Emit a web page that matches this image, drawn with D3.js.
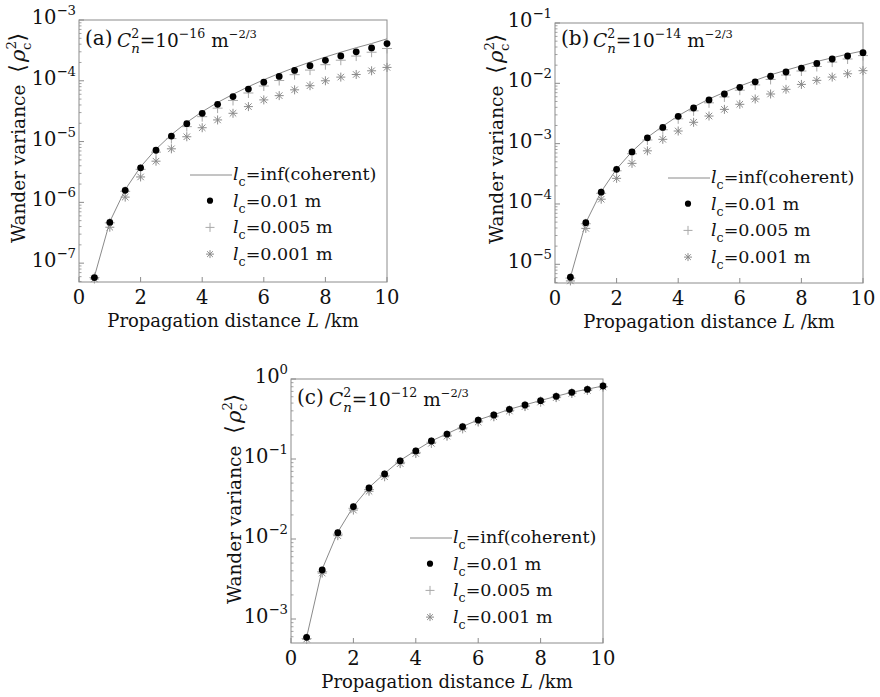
<!DOCTYPE html>
<html lang="en">
<head>
<meta charset="UTF-8">
<title>Wander variance</title>
<script src="https://d3js.org/d3.v7.min.js"></script>
<style>
  body { margin: 0; background: #fff; }
  text { font-family: "DejaVu Serif", serif; fill: #111; }
</style>
</head>
<body>
<svg id="chart" width="880" height="697"></svg>
<script>
// propagation distance L (km)
const L = [0.5, 1, 1.5, 2, 2.5, 3, 3.5, 4, 4.5, 5, 5.5, 6, 6.5, 7, 7.5, 8, 8.5, 9, 9.5, 10];
const xTicks = [0, 2, 4, 6, 8, 10];

// (a) Cn2 = 1e-16
const coherentA = [6.0e-8, 4.8e-7, 1.62e-6, 3.85e-6, 7.5e-6, 1.3e-5, 2.07e-5, 3.1e-5, 4.4e-5, 6.0e-5,
                   8.0e-5, 1.04e-4, 1.32e-4, 1.65e-4, 2.03e-4, 2.46e-4, 2.95e-4, 3.5e-4, 4.1e-4, 4.9e-4];
const dotsA = [5.8e-8, 4.7e-7, 1.58e-6, 3.7e-6, 7.2e-6, 1.23e-5, 1.97e-5, 2.92e-5, 4.1e-5, 5.5e-5,
               7.3e-5, 9.5e-5, 1.18e-4, 1.48e-4, 1.77e-4, 2.17e-4, 2.56e-4, 3.0e-4, 3.47e-4, 4.09e-4];
const plusA = [5.8e-8, 4.6e-7, 1.52e-6, 3.5e-6, 6.7e-6, 1.12e-5, 1.76e-5, 2.57e-5, 3.55e-5, 4.75e-5,
               6.3e-5, 8.2e-5, 1.01e-4, 1.26e-4, 1.5e-4, 1.84e-4, 2.18e-4, 2.55e-4, 2.95e-4, 3.4e-4];
const starA = [5.5e-8, 3.9e-7, 1.22e-6, 2.62e-6, 4.76e-6, 7.6e-6, 1.2e-5, 1.69e-5, 2.27e-5, 2.92e-5,
               3.76e-5, 4.85e-5, 5.7e-5, 7.1e-5, 8.3e-5, 1.0e-4, 1.15e-4, 1.27e-4, 1.46e-4, 1.66e-4];

// (b) Cn2 = 1e-14
const coherentB = [6.1e-6, 4.9e-5, 1.6e-4, 3.8e-4, 7.4e-4, 1.27e-3, 1.95e-3, 2.9e-3, 4.05e-3, 5.5e-3,
                   7.1e-3, 9.0e-3, 1.12e-2, 1.38e-2, 1.65e-2, 1.95e-2, 2.3e-2, 2.65e-2, 3.05e-2, 3.45e-2];
const dotsB = [6.1e-6, 4.9e-5, 1.57e-4, 3.75e-4, 7.3e-4, 1.25e-3, 1.86e-3, 2.84e-3, 3.9e-3, 5.3e-3,
               6.65e-3, 8.6e-3, 1.06e-2, 1.31e-2, 1.54e-2, 1.79e-2, 2.14e-2, 2.53e-2, 2.84e-2, 3.22e-2];
const plusB = [5.9e-6, 4.7e-5, 1.5e-4, 3.55e-4, 6.8e-4, 1.15e-3, 1.7e-3, 2.58e-3, 3.5e-3, 4.75e-3,
               5.95e-3, 7.7e-3, 9.4e-3, 1.16e-2, 1.37e-2, 1.6e-2, 1.9e-2, 2.25e-2, 2.53e-2, 2.88e-2];
const starB = [5.3e-6, 3.94e-5, 1.2e-4, 2.66e-4, 4.71e-4, 7.6e-4, 1.18e-3, 1.62e-3, 2.26e-3, 2.87e-3,
               3.7e-3, 4.49e-3, 5.5e-3, 6.65e-3, 7.95e-3, 9.6e-3, 1.12e-2, 1.27e-2, 1.44e-2, 1.62e-2];

// (c) Cn2 = 1e-12
const coherentC = [5.9e-4, 4.2e-3, 1.22e-2, 2.55e-2, 4.4e-2, 6.6e-2, 9.6e-2, 0.128, 0.168, 0.207,
                   0.255, 0.308, 0.357, 0.418, 0.475, 0.538, 0.608, 0.682, 0.745, 0.82];
const dotsC = [5.9e-4, 4.1e-3, 1.2e-2, 2.53e-2, 4.34e-2, 6.5e-2, 9.5e-2, 0.126, 0.168, 0.205,
               0.253, 0.307, 0.355, 0.418, 0.473, 0.536, 0.608, 0.682, 0.743, 0.818];
const plusC = [5.7e-4, 3.9e-3, 1.15e-2, 2.42e-2, 4.15e-2, 6.25e-2, 9.1e-2, 0.121, 0.162, 0.198,
               0.245, 0.298, 0.345, 0.407, 0.462, 0.525, 0.596, 0.67, 0.73, 0.805];
const starC = [5.6e-4, 3.75e-3, 1.1e-2, 2.3e-2, 3.95e-2, 6.0e-2, 8.75e-2, 0.117, 0.157, 0.193,
               0.238, 0.29, 0.337, 0.398, 0.452, 0.515, 0.585, 0.66, 0.72, 0.795];

const legendLabels = ["=inf(coherent)", "=0.01 m", "=0.005 m", "=0.001 m"];
const panelTags = ["(a)", "(b)", "(c)"];
const cn2Exponents = ["\u221216", "\u221214", "\u221212"];
const decadesA = [-7, -6, -5, -4, -3];
const decadesB = [-5, -4, -3, -2, -1];
const decadesC = [-3, -2, -1, 0];

const svg = d3.select("#chart");
const frameColor = "#8c8c8c";

// layout of the three panels
const panels = [
  { tag: 0, left: 79, right: 387, top: 20, bottom: 282, ymin: -7.31, ymax: -3, decades: decadesA,
    series: [coherentA, dotsA, plusA, starA], titleX: 25, legX: 190, legY: 177, noteY: 45 },
  { tag: 1, left: 555, right: 863, top: 23, bottom: 283, ymin: -5.31, ymax: -1, decades: decadesB,
    series: [coherentB, dotsB, plusB, starB], titleX: 503, legX: 668, legY: 180, noteY: 45 },
  { tag: 2, left: 291, right: 603, top: 379, bottom: 643, ymin: -3.3, ymax: 0, decades: decadesC,
    series: [coherentC, dotsC, plusC, starC], titleX: 241, legX: 410, legY: 540, noteY: 404 }
];

// add tspans: parts = [text, {i, s, dy, dx}]
function rich(textSel, parts, base) {
  parts.forEach(([t, o]) => {
    o = o || {};
    const ts = textSel.append("tspan").text(t);
    if (o.i) ts.attr("font-style", "italic");
    if (o.s) ts.attr("font-size", base * o.s);
    if (o.dy) ts.attr("dy", o.dy);
    if (o.dx) ts.attr("dx", o.dx);
  });
  return textSel;
}

function starPath(s) {
  const d = s * 0.72;
  return `M${-s},0H${s}M0,${-s}V${s}M${-d},${-d}L${d},${d}M${-d},${d}L${d},${-d}`;
}
const plusPath = s => `M${-s},0H${s}M0,${-s}V${s}`;

panels.forEach(p => {
  const x = d3.scaleLinear().domain([0, 10]).range([p.left, p.right]);
  const y = d3.scaleLog().domain([Math.pow(10, p.ymin), Math.pow(10, p.ymax)]).range([p.bottom, p.top]);
  const g = svg.append("g");

  // frame
  g.append("rect")
    .attr("x", p.left).attr("y", p.top)
    .attr("width", p.right - p.left).attr("height", p.bottom - p.top)
    .attr("fill", "none").attr("stroke", frameColor).attr("stroke-width", 1);

  // x ticks
  g.selectAll(".xt").data(xTicks).join("line")
    .attr("x1", d => x(d)).attr("x2", d => x(d))
    .attr("y1", p.bottom).attr("y2", p.bottom - 5)
    .attr("stroke", frameColor);
  g.selectAll(".xl").data(xTicks).join("text")
    .attr("x", d => x(d)).attr("y", p.bottom + 22)
    .attr("text-anchor", "middle").attr("font-size", 19.5)
    .text(d => d);

  // y ticks (log, major + minor)
  const minor = [];
  for (let e = Math.floor(p.ymin); e < p.ymax; e++) {
    for (let m = 2; m <= 9; m++) {
      const v = m * Math.pow(10, e);
      if (Math.log10(v) >= p.ymin && Math.log10(v) <= p.ymax) minor.push(v);
    }
  }
  g.selectAll(".ym").data(minor).join("line")
    .attr("x1", p.left).attr("x2", p.left + 2.5)
    .attr("y1", d => y(d)).attr("y2", d => y(d))
    .attr("stroke", frameColor).attr("stroke-width", 0.8);
  g.selectAll(".yt").data(p.decades).join("line")
    .attr("x1", p.left).attr("x2", p.left + 5)
    .attr("y1", d => y(Math.pow(10, d))).attr("y2", d => y(Math.pow(10, d)))
    .attr("stroke", frameColor);
  g.selectAll(".yl").data(p.decades).join("text")
    .attr("x", p.left - 3).attr("y", d => y(Math.pow(10, d)) + 4)
    .attr("text-anchor", "end").attr("font-size", 19.5)
    .each(function (d) {
      rich(d3.select(this), [["10"], [d < 0 ? "\u2212" + (-d) : String(d), { s: 0.68, dy: -9 }]], 19.5);
    });

  // axis titles
  rich(g.append("text")
    .attr("x", (p.left + p.right) / 2).attr("y", p.bottom + 45)
    .attr("text-anchor", "middle").attr("font-size", 18),
    [["Propagation distance "], ["L", { i: true }], [" /km"]], 18);

  rich(g.append("text")
    .attr("transform", `translate(${p.titleX},${p.bottom - 39}) rotate(-90)`)
    .attr("font-size", 18.5),
    [["Wander variance"], ["\u27E8", { s: 1.2, dx: 12 }], ["\u03C1", { i: true, s: 1.15, dx: 2 }],
     ["2", { s: 0.72, dy: -9 }], ["c", { s: 0.72, dx: -9, dy: 15 }], ["\u27E9", { s: 1.2, dy: -6, dx: 1 }]], 18.5);

  // data
  const [coh, dots, plus, star] = p.series;
  const line = d3.line().x((d, i) => x(L[i])).y(d => y(d));
  g.append("path").datum(coh)
    .attr("d", line).attr("fill", "none")
    .attr("stroke", "#8a8a8a").attr("stroke-width", 1);

  g.selectAll(".st").data(star).join("path")
    .attr("transform", (d, i) => `translate(${x(L[i])},${y(d)})`)
    .attr("d", starPath(4.5)).attr("stroke", "#8a8a8a").attr("stroke-width", 1).attr("fill", "none");
  g.selectAll(".pl").data(plus).join("path")
    .attr("transform", (d, i) => `translate(${x(L[i])},${y(d)})`)
    .attr("d", plusPath(5)).attr("stroke", "#a8a8a8").attr("stroke-width", 1).attr("fill", "none");
  g.selectAll(".dt").data(dots).join("circle")
    .attr("cx", (d, i) => x(L[i])).attr("cy", d => y(d))
    .attr("r", 3.4).attr("fill", "#000");

  // panel note
  const note = g.append("text").attr("x", p.left + 6).attr("y", p.noteY).attr("font-size", 20);
  note.append("tspan").text(panelTags[p.tag]);
  rich(g.append("text").attr("x", p.left + 38).attr("y", p.noteY + 2).attr("font-size", 18.5),
    [["C", { i: true }], ["2", { s: 0.68, dy: -9 }], ["n", { i: true, s: 0.72, dx: -8, dy: 15 }],
     ["=10", { dy: -6 }], [cn2Exponents[p.tag], { s: 0.68, dy: -9 }], [" m", { dy: 9 }],
     ["\u22122/3", { s: 0.62, dy: -9 }]], 18.5);

  // legend
  const lg = g.append("g");
  const rowH = 26.7;
  const tx = p.legX + 43;
  lg.append("line")
    .attr("x1", p.legX).attr("x2", p.legX + 42)
    .attr("y1", p.legY - 2).attr("y2", p.legY - 2)
    .attr("stroke", "#8a8a8a");
  const mx = p.legX + 20;
  lg.append("circle").attr("cx", mx).attr("cy", p.legY + rowH - 3).attr("r", 3.1).attr("fill", "#000");
  lg.append("path").attr("transform", `translate(${mx},${p.legY + 2 * rowH - 3})`)
    .attr("d", plusPath(4.5)).attr("stroke", "#a8a8a8").attr("fill", "none");
  lg.append("path").attr("transform", `translate(${mx},${p.legY + 3 * rowH - 3})`)
    .attr("d", starPath(4)).attr("stroke", "#8a8a8a").attr("fill", "none");
  legendLabels.forEach((lab, i) => {
    rich(lg.append("text").attr("x", tx).attr("y", p.legY + i * rowH + 3).attr("font-size", 17.5),
      [["l", { i: true }], ["c", { s: 0.72, dy: 6 }], [lab, { dy: -6 }]], 17.5);
  });
});
</script>
</body>
</html>
